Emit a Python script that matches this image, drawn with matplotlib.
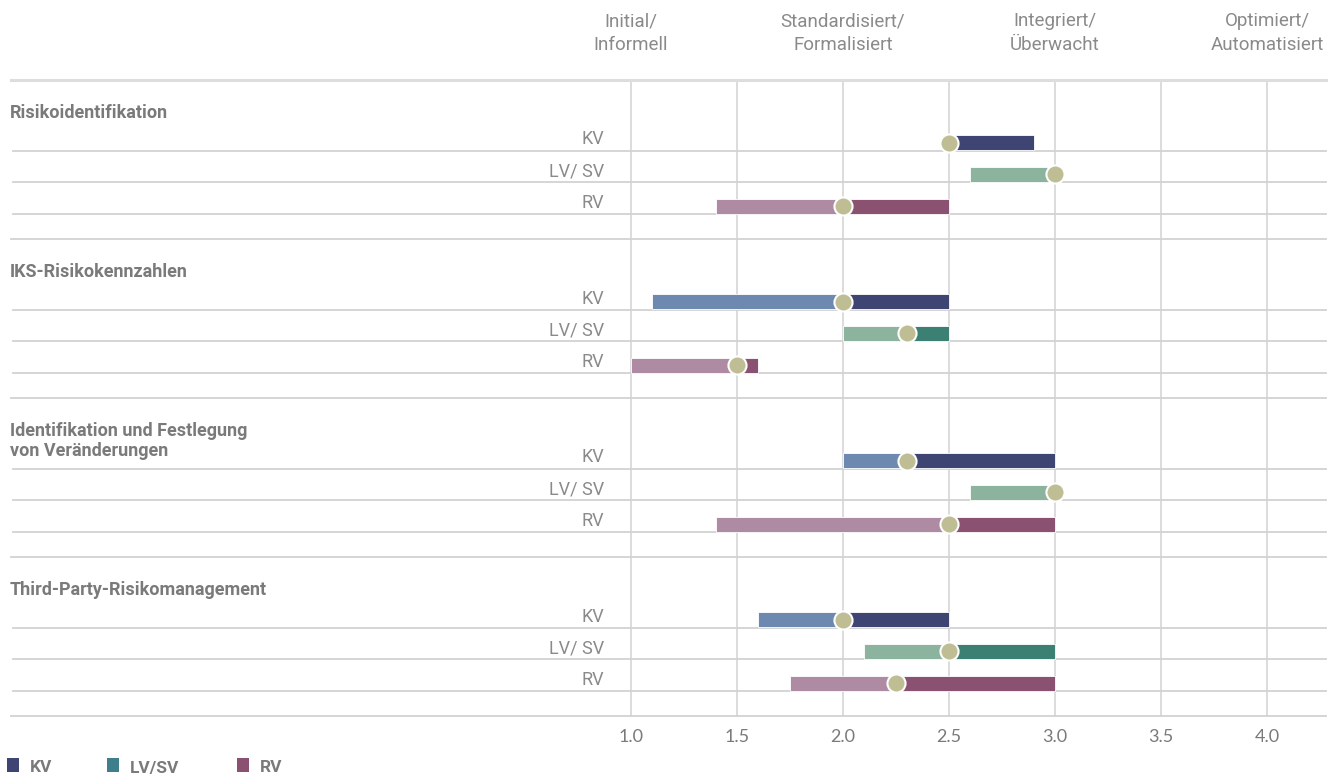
import matplotlib.pyplot as plt
from matplotlib.patches import Rectangle

# Reifegrad je Thema und Sparte: Minimum, Median, Maximum
groups = ['Risikoidentifikation',
          'IKS-Risikokennzahlen',
          'Identifikation und Festlegung\nvon Veränderungen',
          'Third-Party-Risikomanagement']
lines = ['KV', 'LV/SV', 'RV']
row_labels = ['KV', 'LV/ SV', 'RV']

mins = [[2.5, 2.6, 1.4],
        [1.1, 2.0, 1.0],
        [2.0, 2.6, 1.4],
        [1.6, 2.1, 1.75]]
medians = [[2.5, 3.0, 2.0],
           [2.0, 2.3, 1.5],
           [2.3, 3.0, 2.5],
           [2.0, 2.5, 2.25]]
maxs = [[2.9, 3.0, 2.5],
        [2.5, 2.5, 1.6],
        [3.0, 3.0, 3.0],
        [2.5, 3.0, 3.0]]

levels = [1.0, 2.0, 3.0, 4.0]
level_names = ['Initial/\nInformell', 'Standardisiert/\nFormalisiert',
               'Integriert/\nÜberwacht', 'Optimiert/\nAutomatisiert']
ticks = [1.0, 1.5, 2.0, 2.5, 3.0, 3.5, 4.0]

light = {'KV': '#6e89b0', 'LV/SV': '#8cb39e', 'RV': '#ae8aa3'}
dark = {'KV': '#3f4573', 'LV/SV': '#3c8073', 'RV': '#8a5170'}
legend_colors = {'KV': '#3f4573', 'LV/SV': '#3f7f8c', 'RV': '#8a5170'}
dot_color = '#bfbd94'
grey = '#7a7a7a'
label_grey = '#8a8a8a'
grid_color = '#d2d2d2'

W, H = 1343, 776
fig = plt.figure(figsize=(W / 100, H / 100), dpi=100)
ax = fig.add_axes([0, 0, 1, 1])

# x in Reifegrad-Einheiten, y in Pixeln von oben
px_per_unit = 212
x_one = 631
def to_val(px):
    return 1.0 + (px - x_one) / px_per_unit

ax.set_xlim(to_val(0), to_val(W))
ax.set_ylim(H, 0)
ax.axis('off')

top = 80
group_h = 159
row_h = 31.8
first_row = 70.5
bar_h = 15
x_left = to_val(11)
x_right = to_val(1326)

# vertikale Gitterlinien
for t in ticks:
    ax.plot([t, t], [top, top + group_h * len(groups)], color=grid_color, lw=1.1, zorder=1)

# Kopfzeile mit Reifegradstufen
ax.plot([x_left, x_right], [top, top], color='#dddddd', lw=2.2, zorder=1)
for lv, name in zip(levels, level_names):
    ax.text(lv, 33, name, ha='center', va='center', color=label_grey, fontsize=13.5,
            family='Roboto', linespacing=1.4)

for g, title in enumerate(groups):
    y0 = top + g * group_h
    ax.plot([x_left, x_right], [y0 + group_h, y0 + group_h], color=grid_color, lw=1.3, zorder=1)
    ax.text(to_val(10), y0 + 24, title, ha='left', va='top', color=grey, fontsize=13,
            family='Roboto', fontweight='bold', linespacing=1.15)
    for i, line in enumerate(lines):
        yl = y0 + first_row + i * row_h
        ax.plot([to_val(13), x_right], [yl, yl], color=grid_color, lw=1.3, zorder=1)
        ax.text(to_val(604), yl - 11, row_labels[i], ha='right', va='center', color=label_grey,
                fontsize=13, family='Roboto')
        lo, med, hi = mins[g][i], medians[g][i], maxs[g][i]
        yb = yl - bar_h - 0.5
        if med > lo:
            ax.add_patch(Rectangle((lo, yb), med - lo, bar_h, facecolor=light[line],
                                   edgecolor='white', lw=0.6, zorder=3))
        if hi > med:
            ax.add_patch(Rectangle((med, yb), hi - med, bar_h, facecolor=dark[line],
                                   edgecolor='white', lw=0.6, zorder=3))
        ax.scatter([med], [yb + bar_h / 2], s=170, color=dot_color, edgecolor='white',
                   linewidth=1.5, zorder=4)

# x-Achsenbeschriftung
for t in ticks:
    ax.text(t, 737, f'{t:.1f}', ha='center', va='center', color=grey, fontsize=13,
            family='Lato')

# Legende
legend_x = [7, 107, 237]
for lx, line in zip(legend_x, lines):
    ax.add_patch(Rectangle((to_val(lx), 758), 12 / px_per_unit, 14,
                           facecolor=legend_colors[line], edgecolor='none', clip_on=False))
    ax.text(to_val(lx + 23), 768, line, ha='left', va='center', color=grey, fontsize=12.5,
            family='Roboto', fontweight='bold')

fig.savefig('out.png', dpi=100)
